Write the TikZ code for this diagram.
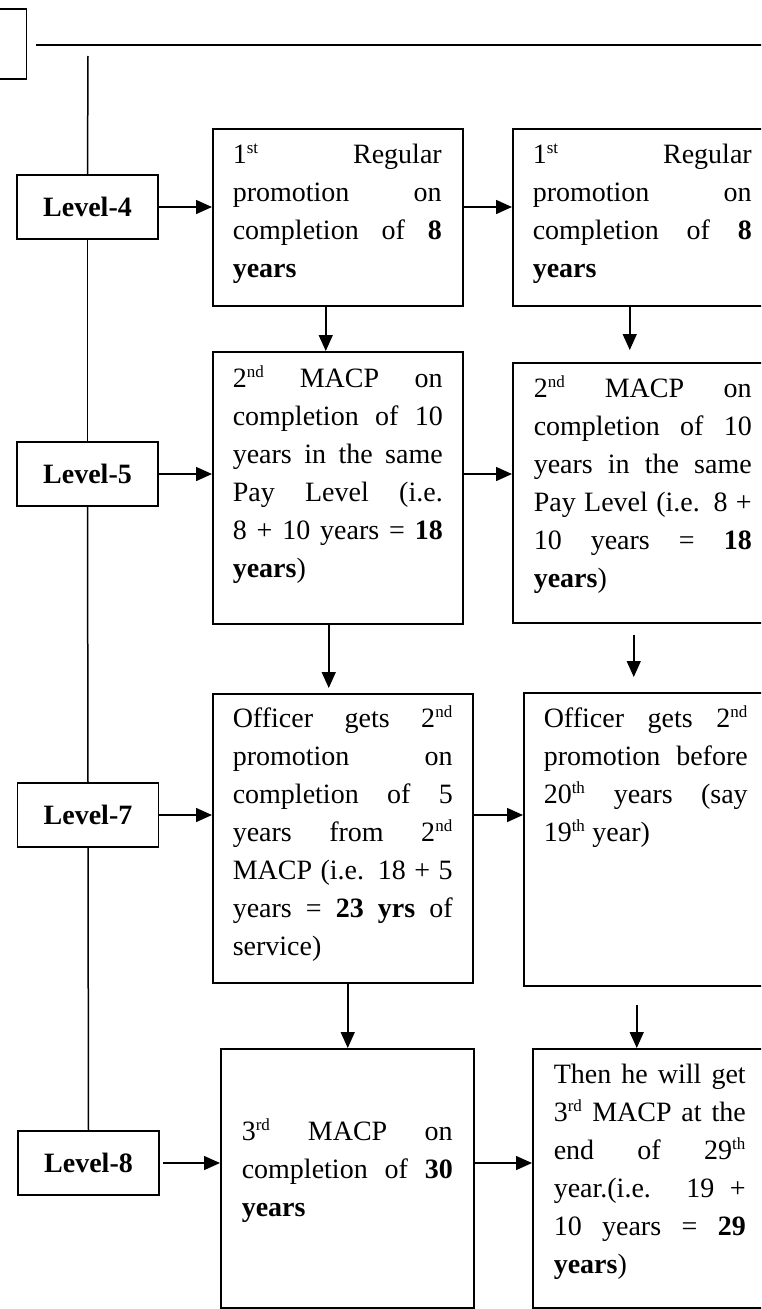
\documentclass[tikz,border=0pt]{standalone}
\usepackage{fontspec}
\setmainfont{Liberation Serif}
\usetikzlibrary{arrows.meta}
\newcommand{\jtxt}[2]{\parbox[t]{#1}{\fontsize{28}{38}\selectfont\hyphenpenalty=10000\exhyphenpenalty=10000\tolerance=10000\hbadness=10000\relax #2}}
\newcommand{\sups}[1]{\textsuperscript{\fontsize{17}{17}\selectfont #1}}
\tikzset{
  boxnode/.style={draw, rectangle, inner sep=0pt, anchor=north west},
  lvl/.style={draw, rectangle, minimum width=141pt, minimum height=64pt, inner sep=0pt, font=\fontsize{28}{34}\selectfont\bfseries},
  txt/.style={inner sep=0pt, anchor=base west},
  arr/.style={-{Triangle[length=16pt,width=14pt]}},
}
\begin{document}
\begin{tikzpicture}[x=1pt, y=-1pt, line width=1.5pt]
\path[use as bounding box] (0,0) rectangle (761,1309);
\fill[white] (0,0) rectangle (761,1309);
\clip (0,0) rectangle (761,1309);

% top-left fragment and header line
\node[draw, rectangle, inner sep=0pt, anchor=north east, minimum width=40pt, minimum height=70pt] (tl) at (27,8) {};
\coordinate (hl1) at (36,45);
\coordinate (hl2) at (770,45);
\draw (hl1) -- (hl2);

% level boxes
\node[lvl] (l4) at (87.5,207) {Level-4};
\node[lvl] (l5) at (87.5,474) {Level-5};
\node[lvl] (l7) at (88,815) {Level-7};
\node[lvl] (l8) at (88.5,1163) {Level-8};

% vertical spine
\coordinate (vtop) at (88,56);
\draw (vtop) -- (l4.north);
\draw (l4.south) -- (l5.north);
\draw (l5.south) -- (l7.north);
\draw (l7.south) -- (l8.north);

% content boxes
\node[boxnode, minimum width=250pt, minimum height=177pt] (b1) at (212,128) {};
\node[boxnode, minimum width=259pt, minimum height=177pt] (b2) at (512,128) {};
\node[boxnode, minimum width=250pt, minimum height=272pt] (b3) at (212,351) {};
\node[boxnode, minimum width=259pt, minimum height=260pt] (b4) at (512,362) {};
\node[boxnode, minimum width=260pt, minimum height=289pt] (b5) at (212,693) {};
\node[boxnode, minimum width=248pt, minimum height=293pt] (b6) at (523,692) {};
\node[boxnode, minimum width=253pt, minimum height=259pt] (b7) at (220,1048) {};
\node[boxnode, minimum width=240pt, minimum height=259pt] (b8) at (532,1048) {};

% texts
\node[txt] (t1) at (232,163) {\jtxt{209pt}{1\sups{st} Regular\linebreak promotion on\linebreak completion of \textbf{8}\linebreak \textbf{years}}};
\node[txt] (t2) at (532,163) {\jtxt{219pt}{1\sups{st} Regular\linebreak promotion on\linebreak completion of \textbf{8}\linebreak \textbf{years}}};
\node[txt] (t3) at (232,387) {\jtxt{210pt}{2\sups{nd} MACP on\linebreak completion of 10\linebreak years in the same\linebreak Pay Level (i.e.\linebreak 8 + 10 years = \textbf{18}\linebreak \textbf{years})}};
\node[txt] (t4) at (533,397) {\jtxt{218pt}{2\sups{nd} MACP on\linebreak completion of 10\linebreak years in the same\linebreak Pay Level (i.e. 8 +\linebreak 10 years = \textbf{18}\linebreak \textbf{years})}};
\node[txt] (t5) at (232,727) {\jtxt{220pt}{Officer gets 2\sups{nd}\linebreak promotion on\linebreak completion of 5\linebreak years from 2\sups{nd}\linebreak MACP (i.e. 18 + 5\linebreak years = \textbf{23 yrs} of\linebreak service)}};
\node[txt] (t6) at (543,727) {\jtxt{204pt}{Officer gets 2\sups{nd}\linebreak promotion before\linebreak 20\sups{th} years (say\linebreak 19\sups{th} year)}};
\node[txt] (t7) at (241,1140) {\jtxt{211pt}{3\sups{rd} MACP on\linebreak completion of \textbf{30}\linebreak \textbf{years}}};
\node[txt] (t8) at (553,1083) {\jtxt{192pt}{Then he will get\linebreak 3\sups{rd} MACP at the\linebreak end of 29\sups{th}\linebreak year.(i.e. 19 +\linebreak 10 years = \textbf{29}\linebreak \textbf{years})}};

% horizontal arrows
\draw[arr] (l4.east) -- (l4.east -| b1.west);
\draw[arr] (b1.east |- l4.east) -- (b2.west |- l4.east);
\draw[arr] (l5.east) -- (l5.east -| b3.west);
\draw[arr] (b3.east |- l5.east) -- (b4.west |- l5.east);
\draw[arr] (l7.east) -- (l7.east -| b5.west);
\draw[arr] (b5.east |- l7.east) -- (b6.west |- l7.east);
\draw[arr, shorten <=3pt] (l8.east) -- (l8.east -| b7.west);
\draw[arr] (b7.east |- l8.east) -- (b8.west |- l8.east);

% vertical arrows
\draw[arr] ([xshift=-12pt]b1.south) -- ([xshift=-12pt]b1.south |- b3.north);
\draw[arr, shorten >=12pt] ([xshift=-12.5pt]b2.south) -- ([xshift=-12.5pt]b2.south |- b4.north);
\draw[arr, shorten >=5pt] ([xshift=-9pt]b3.south) -- ([xshift=-9pt]b3.south |- b5.north);
\draw[arr, shorten <=11pt, shorten >=15pt] ([xshift=-8.5pt]b4.south) -- ([xshift=-8.5pt]b4.south |- b6.north);
\draw[arr] ([xshift=5pt]b5.south) -- ([xshift=5pt]b5.south |- b7.north);
\draw[arr, shorten <=18pt] ([xshift=-11pt]b6.south) -- ([xshift=-11pt]b6.south |- b8.north);
\end{tikzpicture}
\end{document}
